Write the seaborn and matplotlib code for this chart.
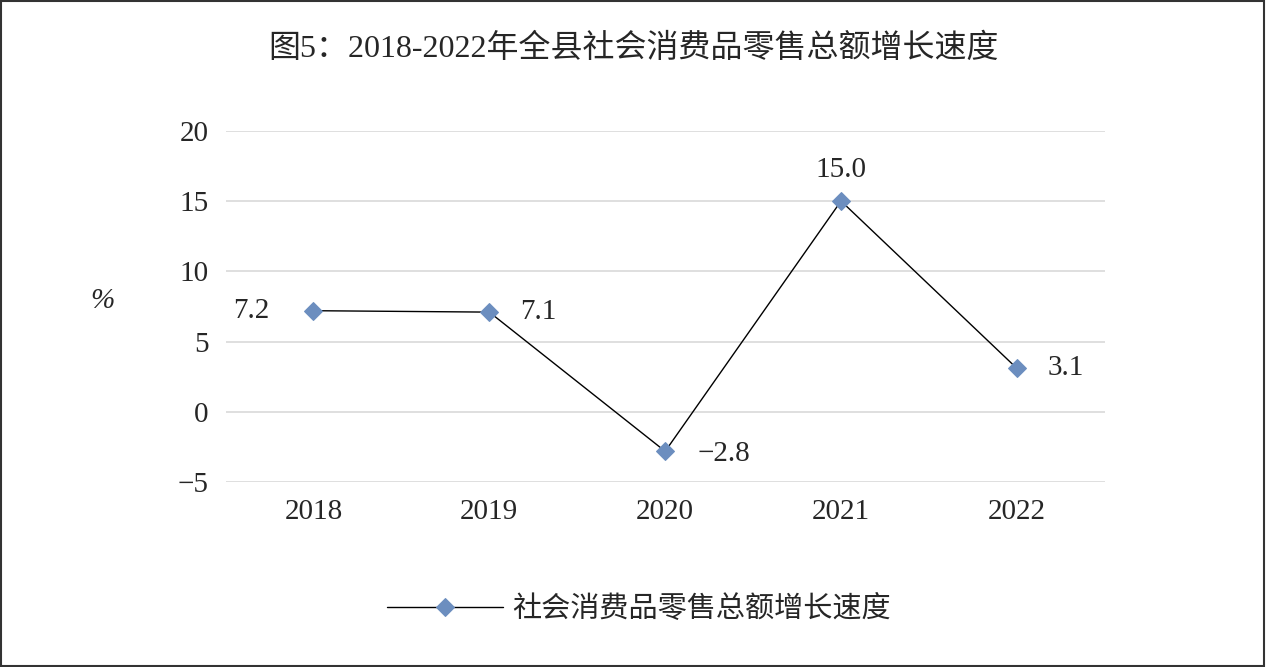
import matplotlib.pyplot as plt
import seaborn as sns
import pandas as pd
from matplotlib.patches import Rectangle

sns.set_style("white")
plt.rcParams['font.family'] = ['Liberation Serif', 'Noto Sans CJK SC']

years = ['2018', '2019', '2020', '2021', '2022']
growth = [7.2, 7.1, -2.8, 15.0, 3.1]
label_text = ['7.2', '7.1', '−2.8', '15.0', '3.1']
series_name = '社会消费品零售总额增长速度'

df = pd.DataFrame({'year': years, 'growth': growth})

fig = plt.figure(figsize=(12.67, 6.67), dpi=100)
ax = fig.add_axes([0.178, 0.277, 0.694, 0.527])
sns.lineplot(data=df, x='year', y='growth', ax=ax, color='black', linewidth=1,
             marker='D', markersize=9, markerfacecolor='#6c8ebf',
             markeredgecolor='#6c8ebf', label=series_name, sort=False)

ax.set_xlim(-0.5, 4.5)
ax.set_ylim(-5, 20)
ax.set_yticks([-5, 0, 5, 10, 15, 20])
ax.set_yticklabels(['−5', '0', '5', '10', '15', '20'])
ax.grid(axis='y', color='#d9d9d9', linewidth=1.2)
ax.set_axisbelow(True)
for s in ax.spines.values():
    s.set_visible(False)
ax.tick_params(axis='both', labelsize=21, length=0, pad=12)
ax.set_xlabel('')
ax.set_ylabel('%', fontsize=21, style='italic', rotation=0)
ax.yaxis.set_label_coords(-0.14, 0.48)

offsets = [(-45, 0), (35, 0), (42, -2), (0, 22), (35, 0)]
for i, (v, t) in enumerate(zip(growth, label_text)):
    ax.annotate(t, (i, v), xytext=offsets[i], textcoords='offset points',
                ha='center', va='center', fontsize=21)

fig.suptitle('图5：2018-2022年全县社会消费品零售总额增长速度', y=0.95, fontsize=23,
             family=['Liberation Serif', 'Noto Sans CJK SC'])
ax.legend(loc='center', bbox_to_anchor=(0.47, -0.36), frameon=False,
          handlelength=4, handletextpad=0.3,
          prop={'family': ['Noto Sans CJK SC'], 'size': 21})

fig.patches.append(Rectangle((0.001, 0.002), 0.997, 0.996, transform=fig.transFigure,
                             fill=False, edgecolor='#333333', linewidth=1.5))
plt.savefig('out.png', dpi=100)
